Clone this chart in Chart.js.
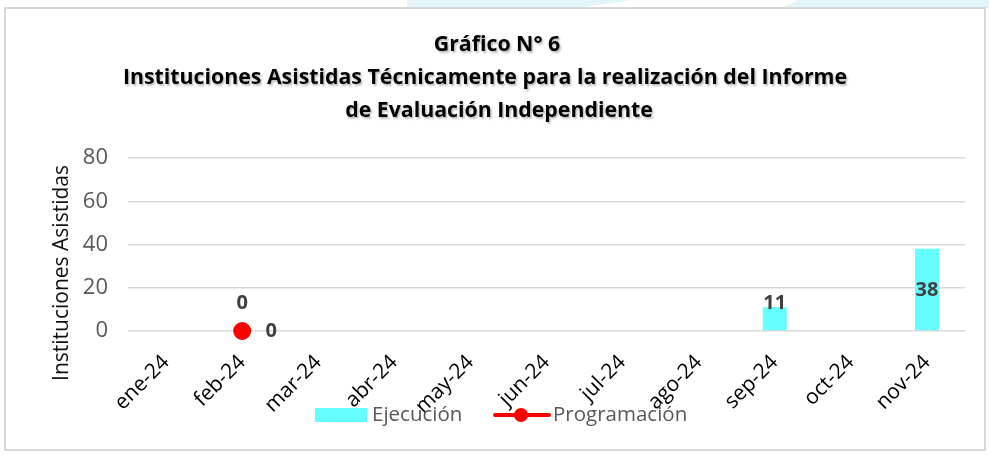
<!DOCTYPE html>
<html>
<head>
<meta charset="utf-8">
<script src="https://cdn.jsdelivr.net/npm/chart.js@4.4.1/dist/chart.umd.min.js"></script>
<style>
  html, body { margin: 0; padding: 0; background: #fff; }
  #wrap { position: relative; width: 989px; height: 455px; overflow: hidden; }
  .deco { position: absolute; top: 0; height: 8px; background: #e4f5f9; }
  #frame { position: absolute; left: 4px; top: 7px; width: 982px; height: 444px;
           border: 2px solid #d9d9d9; box-sizing: border-box; background: #fff; }
  canvas { position: absolute; left: 0; top: 0; }
</style>
</head>
<body>
<div id="wrap">
  <div class="deco" style="left:407px;width:225px;clip-path:polygon(0 0,100% 0,75% 100%,0 100%)"></div>
  <div class="deco" style="left:782px;width:207px;clip-path:polygon(8% 0,100% 0,100% 100%,0 100%)"></div>
  <div id="frame"></div>
  <canvas id="chart" width="989" height="455"></canvas>
</div>
<script>
const months = [ 'ene-24', 'feb-24', 'mar-24', 'abr-24', 'may-24', 'jun-24', 'jul-24', 'ago-24', 'sep-24', 'oct-24', 'nov-24' ]
const ejecucion = [ null, 0, null, null, null, null, null, null, 11, null, 38 ]
const programacion = [ null, 0, null, null, null, null, null, null, null, null, null ]
const titleLines = [ 'Gráfico N° 6', 'Instituciones Asistidas Técnicamente para la realización del Informe', 'de Evaluación Independiente' ]
const yTitle = 'Instituciones Asistidas'

const FONT = '"Open Sans", sans-serif'
const titleX = [ 497, 485, 499 ]

// title, y-axis title, value labels and legend drawn by hand
const extras = {
  id: 'extras',
  afterDraw( chart ) {
    const ctx = chart.ctx

    // title with soft shadow
    ctx.save()
    ctx.font = `bold 21.3px ${FONT}`
    ctx.textAlign = 'center'
    ctx.textBaseline = 'middle'
    ctx.shadowColor = 'rgba( 0, 0, 0, 0.25 )'
    ctx.shadowBlur = 2
    ctx.shadowOffsetX = 1.5
    ctx.shadowOffsetY = 1.5
    ctx.fillStyle = '#000'
    titleLines.forEach( ( t, i ) => ctx.fillText( t, titleX[ i ], 45 + i * 33 ) )
    ctx.restore()

    // y-axis title
    ctx.save()
    ctx.font = `21px ${FONT}`
    ctx.fillStyle = '#111'
    ctx.textAlign = 'center'
    ctx.textBaseline = 'middle'
    ctx.translate( 62, 273 )
    ctx.rotate( -Math.PI / 2 )
    ctx.fillText( yTitle, 0, 0 )
    ctx.restore()

    // value labels
    ctx.save()
    ctx.font = `bold 20px ${FONT}`
    ctx.fillStyle = '#404040'
    ctx.textAlign = 'center'
    ctx.textBaseline = 'middle'
    const base = chart.scales.y.getPixelForValue( 0 )
    chart.getDatasetMeta( 0 ).data.forEach( ( bar, i ) => {
      const v = ejecucion[ i ]
      if ( v === null ) return
      const mid = ( bar.y + base ) / 2
      ctx.fillText( String( v ), bar.x, Math.min( mid, base - 28 ) )
    } )
    chart.getDatasetMeta( 1 ).data.forEach( ( pt, i ) => {
      const v = programacion[ i ]
      if ( v === null ) return
      ctx.fillText( String( v ), pt.x + 29, pt.y )
    } )
    ctx.restore()

    // legend
    ctx.save()
    const ly = 415
    ctx.fillStyle = '#66ffff'
    ctx.fillRect( 315, ly - 7, 52, 14 )
    ctx.font = `20.5px ${FONT}`
    ctx.fillStyle = '#595959'
    ctx.textBaseline = 'middle'
    ctx.textAlign = 'left'
    ctx.fillText( 'Ejecución', 372, ly )
    ctx.strokeStyle = '#ff0000'
    ctx.lineWidth = 4
    ctx.lineCap = 'round'
    ctx.beginPath()
    ctx.moveTo( 495, ly )
    ctx.lineTo( 549, ly )
    ctx.stroke()
    ctx.fillStyle = '#ff0000'
    ctx.beginPath()
    ctx.arc( 521, ly, 7, 0, Math.PI * 2 )
    ctx.fill()
    ctx.fillStyle = '#595959'
    ctx.fillText( 'Programación', 553, ly )
    ctx.restore()
  }
}

new Chart( document.getElementById( 'chart' ), {
  data: {
    labels: months,
    datasets: [
      {
        type: 'bar',
        label: 'Ejecución',
        data: ejecucion,
        backgroundColor: '#66ffff',
        barPercentage: 0.315,
        categoryPercentage: 1,
        order: 2
      },
      {
        type: 'line',
        label: 'Programación',
        data: programacion,
        borderColor: '#ff0000',
        backgroundColor: '#ff0000',
        borderWidth: 4,
        pointRadius: 7,
        pointHoverRadius: 7,
        clip: false,
        order: 1
      }
    ]
  },
  options: {
    responsive: false,
    animation: false,
    layout: { padding: { top: 158, right: 24, left: 0, bottom: 0 } },
    plugins: {
      legend: { display: false },
      title: { display: false },
      tooltip: { enabled: false }
    },
    scales: {
      x: {
        grid: { display: false },
        border: { display: false },
        ticks: {
          color: '#000',
          font: { family: FONT, size: 21 },
          minRotation: 45,
          maxRotation: 45,
          padding: 11
        },
        afterFit: s => { s.height = 124 }
      },
      y: {
        min: 0,
        max: 80,
        grid: { color: '#d9d9d9', lineWidth: 1.5, drawTicks: false },
        border: { display: false },
        ticks: {
          stepSize: 20,
          color: '#595959',
          font: { family: FONT, size: 22 },
          padding: 20
        },
        afterFit: s => { s.width = 128 }
      }
    }
  },
  plugins: [ extras ]
} )
</script>
</body>
</html>
